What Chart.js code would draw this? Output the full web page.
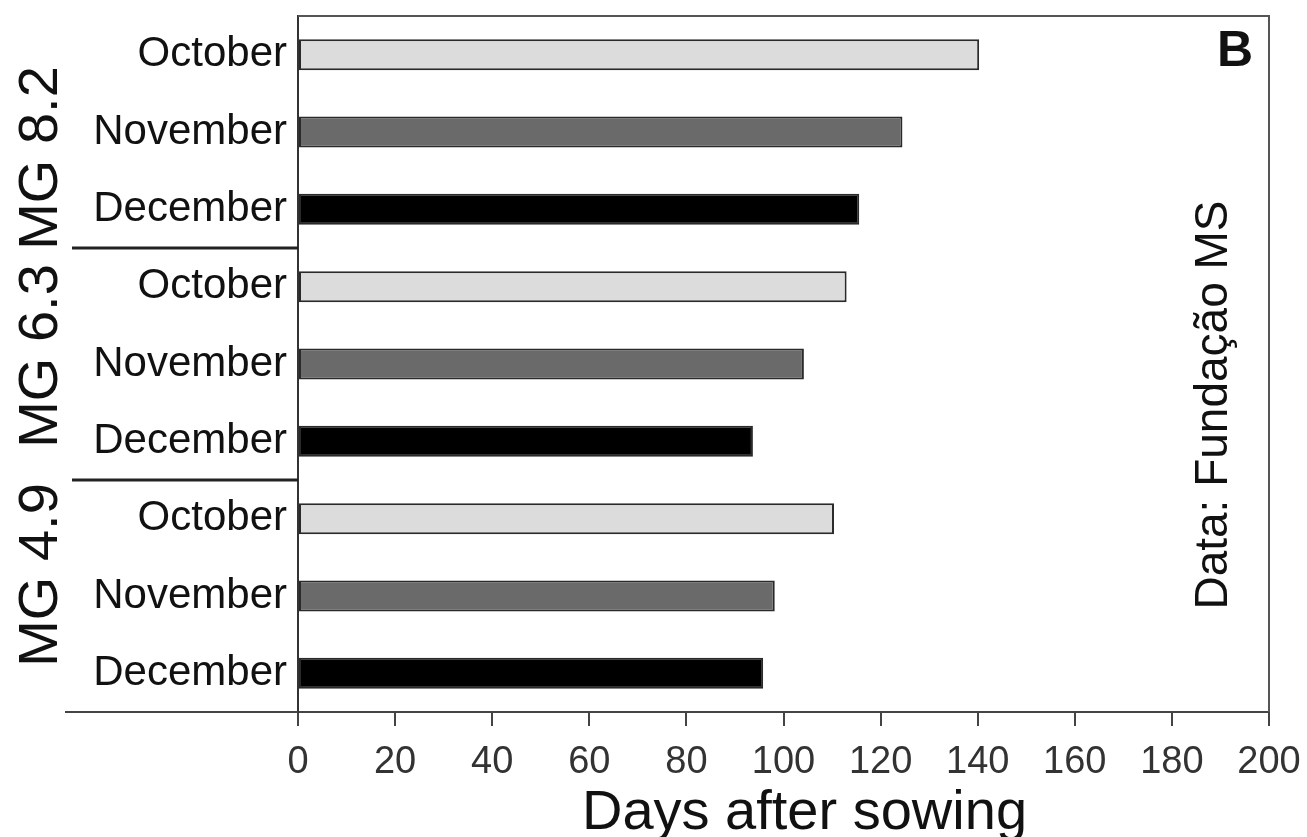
<!DOCTYPE html>
<html>
<head>
<meta charset="utf-8">
<script src="https://cdn.jsdelivr.net/npm/chart.js@4/dist/chart.umd.min.js"></script>
<style>
    html, body { margin: 0; padding: 0; background: #fff; }
    #wrap { width: 1307px; height: 837px; }
</style>
</head>
<body>
<div id="wrap"><canvas id="chart" width="1307" height="837"></canvas></div>
<script>
const groups = ["MG 8.2", "MG 6.3", "MG 4.9"];
const months = ["October", "November", "December"];
const mg82Days = [140.3, 124.5, 115.6];
const mg63Days = [113, 104.2, 93.7];
const mg49Days = [110.4, 98.2, 95.8];
const xTickValues = [0, 20, 40, 60, 80, 100, 120, 140, 160, 180, 200];

const monthColors = ["#dcdcdc", "#6a6a6a", "#000000"];

const labels = [...months, ...months, ...months];
const days = [...mg82Days, ...mg63Days, ...mg49Days];

// extra drawing: frame, group separators, rotated group names, panel letter, source note, x title
const decorations = {
    id: 'decorations',
    afterDraw(chart) {
        const ctx = chart.ctx;
        const area = chart.chartArea;
        const y = chart.scales.y;
        ctx.save();

        // top and right frame
        ctx.strokeStyle = "#555";
        ctx.lineWidth = 2;
        ctx.beginPath();
        ctx.moveTo(area.left, area.top);
        ctx.lineTo(area.right, area.top);
        ctx.lineTo(area.right, area.bottom);
        ctx.stroke();

        // bottom line runs out under the labels
        ctx.strokeStyle = "#444";
        ctx.beginPath();
        ctx.moveTo(65, area.bottom);
        ctx.lineTo(area.left, area.bottom);
        ctx.stroke();

        // separators between the maturity groups
        ctx.strokeStyle = "#222";
        ctx.lineWidth = 3;
        [2.5, 5.5].forEach(v => {
            const py = y.getPixelForValue(v);
            ctx.beginPath();
            ctx.moveTo(72, py);
            ctx.lineTo(area.left, py);
            ctx.stroke();
        });

        // rotated group names
        const nudge = [26, -8, -21];
        ctx.fillStyle = "#111";
        ctx.font = "56px 'Liberation Sans', Arial, sans-serif";
        ctx.textAlign = "center";
        ctx.textBaseline = "middle";
        groups.forEach((g, i) => {
            const py = y.getPixelForValue(i * 3 + 1) + nudge[i];
            ctx.save();
            ctx.translate(42, py);
            ctx.rotate(-Math.PI / 2);
            ctx.fillText(g, 0, 0);
            ctx.restore();
        });

        // panel letter
        ctx.font = "bold 50px 'Liberation Sans', Arial, sans-serif";
        ctx.fillText("B", area.right - 34, area.top + 36);

        // data source
        ctx.save();
        ctx.font = "46px 'Liberation Sans', Arial, sans-serif";
        ctx.translate(area.right - 55, (area.top + area.bottom) / 2 + 41);
        ctx.rotate(-Math.PI / 2);
        ctx.fillText("Data: Fundação MS", 0, 0);
        ctx.restore();

        // x axis title
        ctx.font = "56px 'Liberation Sans', Arial, sans-serif";
        ctx.textBaseline = "alphabetic";
        ctx.fillText("Days after sowing", (area.left + area.right) / 2 + 21, 829);

        ctx.restore();
    }
};

new Chart(document.getElementById('chart'), {
    type: 'bar',
    data: {
        labels: labels,
        datasets: [
            {
                label: 'Days after sowing',
                data: days,
                backgroundColor: labels.map((m, i) => monthColors[i % 3]),
                borderColor: "#2a2a2a",
                borderWidth: 2,
                borderSkipped: false,
                barPercentage: 0.4,
                categoryPercentage: 1
            }
        ]
    },
    options: {
        indexAxis: 'y',
        responsive: false,
        animation: false,
        layout: { padding: { top: 16, right: 38, left: 0, bottom: 0 } },
        plugins: {
            legend: { display: false },
            tooltip: { enabled: false }
        },
        scales: {
            x: {
                min: 0,
                max: 200,
                afterBuildTicks: scale => {
                    scale.ticks = xTickValues.map(v => ({ value: v }));
                },
                afterFit: scale => {
                    scale.height = 125;
                    scale.paddingLeft = 0;
                    scale.paddingRight = 0;
                },
                grid: {
                    drawOnChartArea: false,
                    drawTicks: true,
                    tickLength: 14,
                    tickColor: "#444",
                    lineWidth: 2
                },
                border: { display: true, color: "#444", width: 2 },
                ticks: {
                    color: "#333",
                    padding: 14,
                    font: { family: "'Liberation Sans', Arial, sans-serif", size: 38 }
                }
            },
            y: {
                afterFit: scale => {
                    scale.width = 298;
                    scale.paddingTop = 0;
                    scale.paddingBottom = 0;
                },
                grid: { display: false, drawTicks: false },
                border: { display: true, color: "#333", width: 2 },
                ticks: {
                    color: "#111",
                    padding: 11,
                    font: { family: "'Liberation Sans', Arial, sans-serif", size: 42 }
                }
            }
        }
    },
    plugins: [decorations]
});
</script>
</body>
</html>
